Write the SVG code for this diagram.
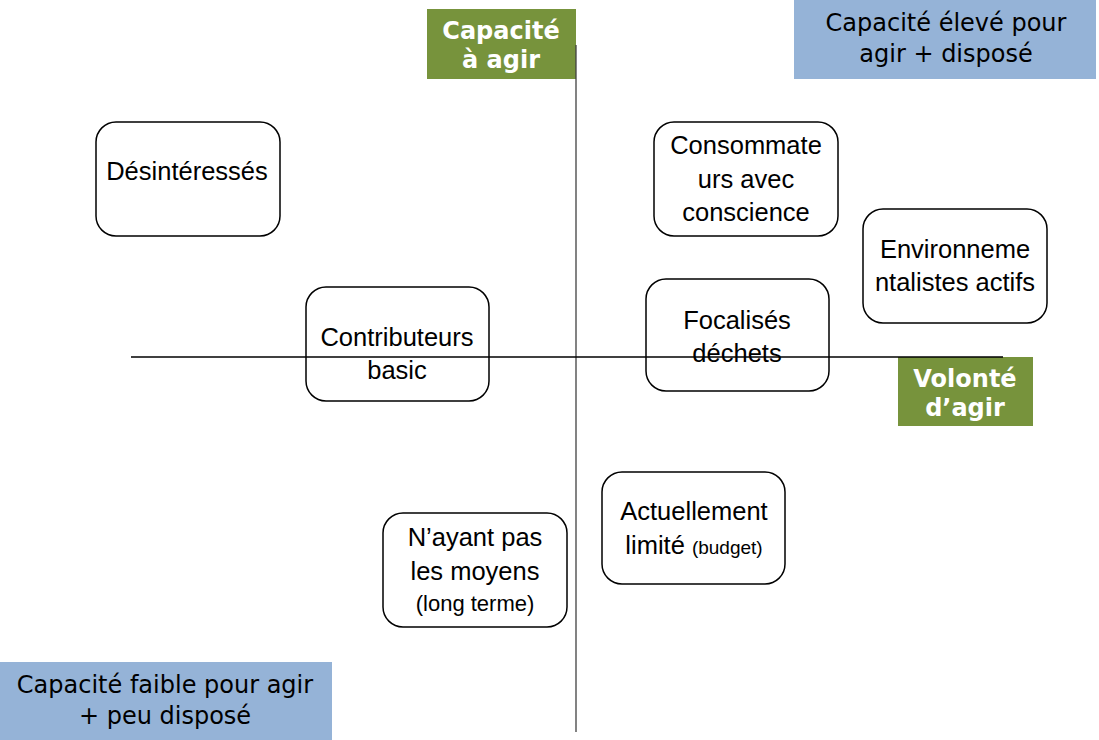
<svg xmlns="http://www.w3.org/2000/svg" width="1099" height="740" viewBox="0 0 1099 740">
  <style>
    .box { fill: none; stroke: #000; stroke-width: 1.5; }
    .t { font-family: "Liberation Sans", Arial, sans-serif; font-size: 25.5px; fill: #000; text-anchor: middle; }
    .s { font-size: 19px; }
    .m { font-size: 22px; }
    .green { fill: #77933C; }
    .blue { fill: #95B3D7; }
    .gl { font-family: "DejaVu Sans", Verdana, sans-serif; font-weight: bold; font-size: 24px; fill: #fff; text-anchor: middle; }
    .bl { font-family: "DejaVu Sans", Verdana, sans-serif; font-size: 24px; fill: #000; text-anchor: middle; }
    .axis { stroke: #000; stroke-width: 1.3; fill: none; }
  </style>

  <!-- quadrant captions -->
  <g id="quadrant-high">
    <rect class="blue" x="794" y="0" width="302" height="79"/>
    <text class="bl" x="946" y="31">Capacité élevé pour</text>
    <text class="bl" x="946" y="62">agir + disposé</text>
  </g>
  <g id="quadrant-low">
    <rect class="blue" x="0" y="662" width="332" height="78"/>
    <text class="bl" x="165" y="693">Capacité faible pour agir</text>
    <text class="bl" x="165" y="724">+ peu disposé</text>
  </g>

  <!-- axis labels -->
  <g id="label-capacite">
    <rect class="green" x="427" y="9" width="149" height="70"/>
    <text class="gl" x="501" y="39">Capacité</text>
    <text class="gl" x="501" y="68">à agir</text>
  </g>
  <g id="label-volonte">
    <rect class="green" x="898" y="357" width="135" height="69"/>
    <text class="gl" x="965" y="387">Volonté</text>
    <text class="gl" x="965" y="416">d’agir</text>
  </g>

  <!-- axes -->
  <g id="connectors">
    <line class="axis" x1="576" y1="45" x2="576" y2="732" style="stroke:#404040"/>
    <line class="axis" x1="131" y1="357" x2="1003" y2="357"/>
  </g>

  <!-- segments -->
  <g id="desinteresses">
    <rect class="box" x="96" y="122" width="184" height="114" rx="20"/>
    <text class="t" x="187" y="180">Désintéressés</text>
  </g>
  <g id="contributeurs">
    <rect class="box" x="306" y="287" width="183" height="114" rx="20"/>
    <text class="t" x="397" y="346">Contributeurs</text>
    <text class="t" x="397" y="379">basic</text>
  </g>
  <g id="consommateurs">
    <rect class="box" x="654" y="122" width="184" height="114" rx="20"/>
    <text class="t" x="746" y="154">Consommate</text>
    <text class="t" x="746" y="188">urs avec</text>
    <text class="t" x="746" y="221">conscience</text>
  </g>
  <g id="environnementalistes">
    <rect class="box" x="863" y="209" width="184" height="114" rx="20"/>
    <text class="t" x="955" y="258">Environneme</text>
    <text class="t" x="955" y="291">ntalistes actifs</text>
  </g>
  <g id="focalises">
    <rect class="box" x="646" y="279" width="183" height="112" rx="20"/>
    <text class="t" x="737" y="329">Focalisés</text>
    <text class="t" x="737" y="362">déchets</text>
  </g>
  <g id="actuellement">
    <rect class="box" x="602" y="472" width="183" height="112" rx="20"/>
    <text class="t" x="694" y="520">Actuellement</text>
    <text class="t" x="694" y="554">limité <tspan class="s">(budget)</tspan></text>
  </g>
  <g id="nayant">
    <rect class="box" x="383" y="513" width="184" height="114" rx="20"/>
    <text class="t" x="475" y="546">N’ayant pas</text>
    <text class="t" x="475" y="580">les moyens</text>
    <text class="t m" x="475" y="611">(long terme)</text>
  </g>
</svg>
